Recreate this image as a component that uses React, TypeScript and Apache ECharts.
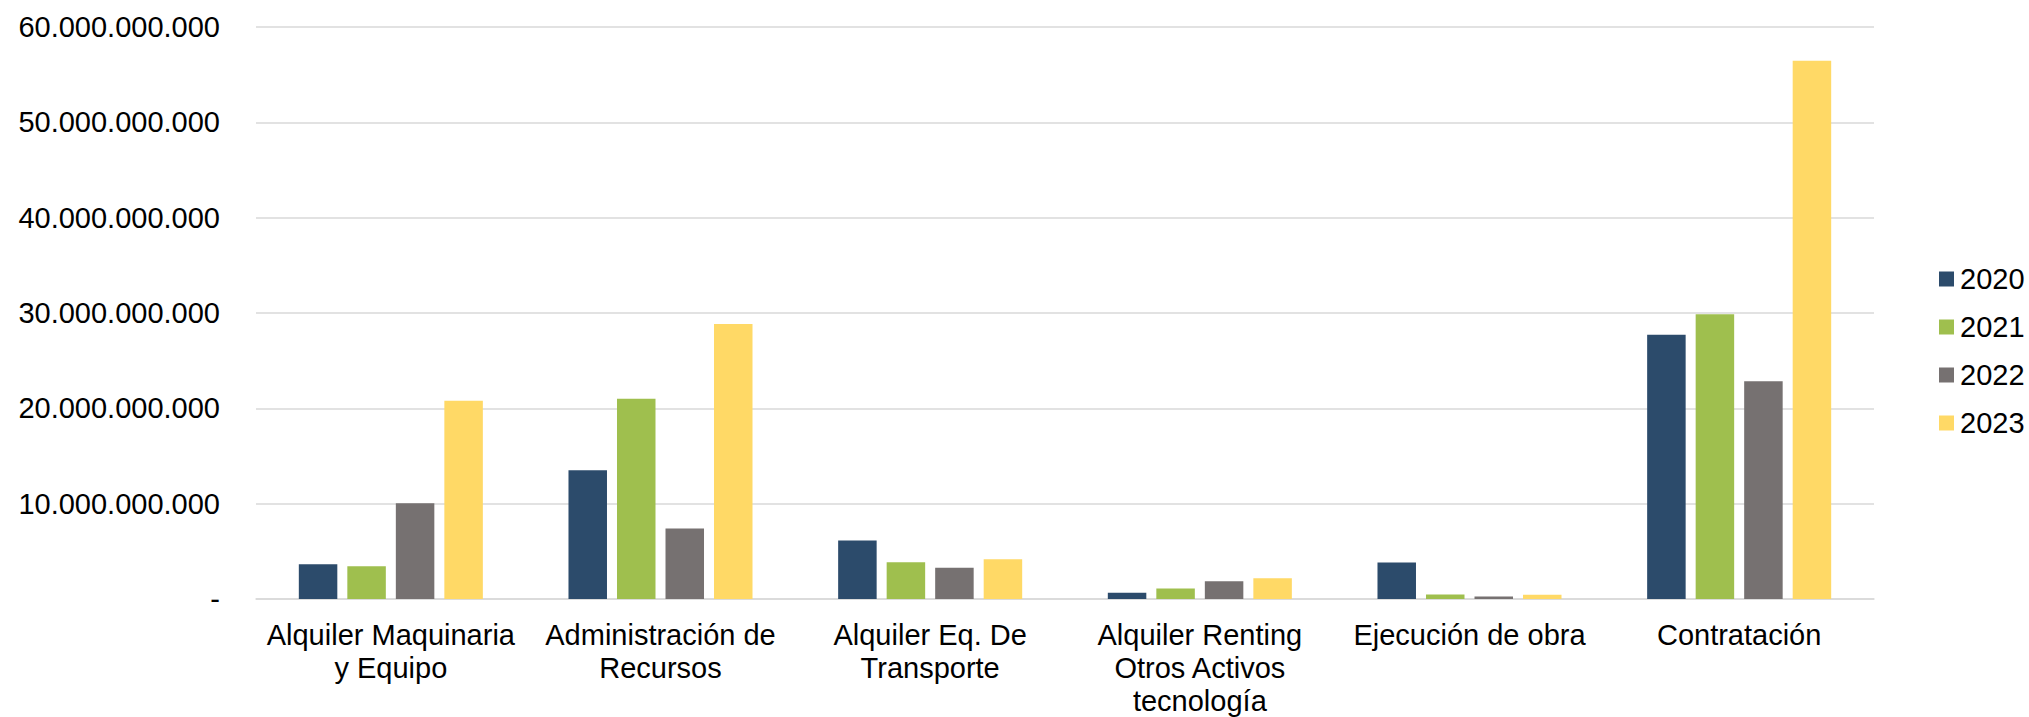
import React, { useEffect, useRef } from "react";
import * as echarts from "echarts";

const categories = [
  "Alquiler Maquinaria\ny Equipo",
  "Administración de\nRecursos",
  "Alquiler Eq. De\nTransporte",
  "Alquiler Renting\nOtros Activos\ntecnología",
  "Ejecución de obra",
  "Contratación",
];

const years = ["2020", "2021", "2022", "2023"];

const values2020 = [3650000000, 13500000000, 6130000000, 650000000, 3830000000, 27720000000];
const values2021 = [3440000000, 21000000000, 3860000000, 1100000000, 470000000, 29870000000];
const values2022 = [10040000000, 7390000000, 3270000000, 1870000000, 260000000, 22850000000];
const values2023 = [20800000000, 28850000000, 4170000000, 2180000000, 440000000, 56470000000];

const seriesValues = [values2020, values2021, values2022, values2023];
const colors = ["#2C4B6B", "#9FBF4E", "#767171", "#FFD966"];

const yMin = 0;
const yMax = 60000000000;
const yInterval = 10000000000;

function formatValue(v: number): string {
  if (v === 0) return "-";
  return Math.round(v)
    .toString()
    .replace(/\B(?=(\d{3})+(?!\d))/g, ".");
}

export default function App() {
  const ref = useRef<HTMLDivElement>(null);

  useEffect(() => {
    if (!ref.current) return;
    const chart = echarts.init(ref.current, undefined, { renderer: "svg" });
    const font = "'Liberation Sans', Arial, sans-serif";
    chart.setOption({
      animation: false,
      backgroundColor: "#ffffff",
      textStyle: { fontFamily: font },
      grid: { left: 256, right: 155, top: 27, bottom: 117.5, containLabel: false },
      legend: {
        orient: "vertical",
        left: 1934,
        top: 259,
        itemWidth: 15,
        itemHeight: 15,
        itemGap: 18,
        icon: "rect",
        data: years,
        textStyle: { fontSize: 29, color: "#000000", fontFamily: font, lineHeight: 30, padding: [0, 0, 0, 1] },
      },
      xAxis: {
        type: "category",
        data: categories,
        axisTick: { show: false },
        axisLine: { show: true, lineStyle: { color: "#D9D9D9", width: 1.5 } },
        axisLabel: {
          interval: 0,
          margin: 19,
          fontSize: 29,
          lineHeight: 33,
          color: "#000000",
          fontFamily: font,
          align: "center",
        },
      },
      yAxis: {
        type: "value",
        min: yMin,
        max: yMax,
        interval: yInterval,
        axisLine: { show: false },
        axisTick: { show: false },
        splitLine: { show: true, lineStyle: { color: "#D9D9D9", width: 1.5 } },
        axisLabel: {
          margin: 36,
          fontSize: 29,
          color: "#000000",
          fontFamily: font,
          formatter: (v: number) => formatValue(v),
        },
      },
      series: years.map((y, i) => ({
        name: y,
        type: "bar",
        data: seriesValues[i],
        barWidth: 38.5,
        barGap: "26%",
        itemStyle: { color: colors[i] },
      })),
    });
    return () => chart.dispose();
  }, []);

  return (
    <div
      ref={ref}
      style={{ position: "absolute", left: 0, top: 0, width: 2029, height: 717 }}
    />
  );
}
